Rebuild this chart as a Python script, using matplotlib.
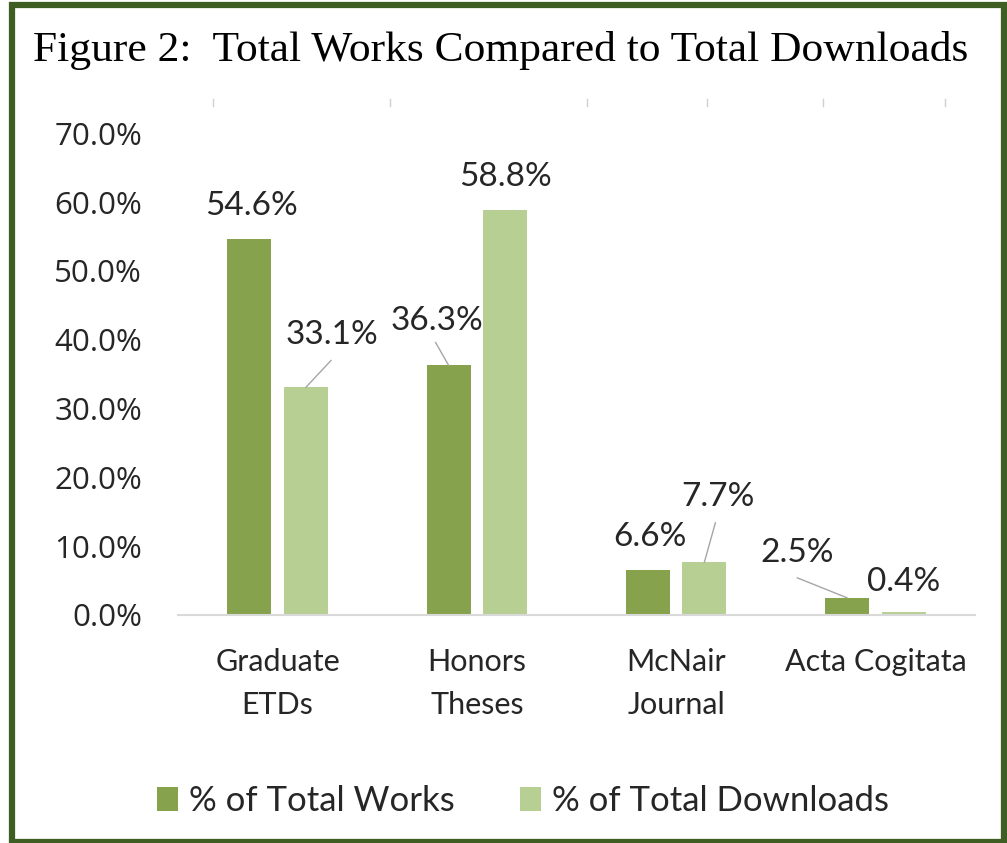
import matplotlib.pyplot as plt
import numpy as np
from matplotlib.patches import Rectangle

categories = ['Graduate\nETDs', 'Honors\nTheses', 'McNair\nJournal', 'Acta Cogitata']
total_works = [54.6, 36.3, 6.6, 2.5]
total_downloads = [33.1, 58.8, 7.7, 0.4]
y_ticks = [0, 10, 20, 30, 40, 50, 60, 70]

DARK = '#86a24c'
LIGHT = '#b8cf94'
BORDER = '#3f5e24'
FONT = 'Lato'

fig = plt.figure(figsize=(10.07, 8.43), dpi=100)
W, H = 1007, 843

# green frame round the whole figure
fig.patches.append(Rectangle((12 / W, 1 / H), (1004 - 12) / W, (838 - 1) / H,
                             transform=fig.transFigure, fill=False,
                             edgecolor=BORDER, linewidth=4.5))

fig.text(33 / W, 1 - 50 / H, 'Figure 2:  Total Works Compared to Total Downloads',
         family='Liberation Serif', fontsize=31.3, va='center', ha='left')

ax = fig.add_axes([178 / W, 228 / H, (975 - 178) / W, (615 - 99) / H])
x = np.arange(len(categories))
bw = 0.221
off = 0.142
b1 = ax.bar(x - off, total_works, bw, color=DARK, label='% of Total Works')
b2 = ax.bar(x + off, total_downloads, bw, color=LIGHT, label='% of Total Downloads')

ax.set_xlim(-0.5, 3.5)
ax.set_ylim(0, 75)
ax.set_yticks(y_ticks)
ax.set_yticklabels([f'{v:.1f}%' for v in y_ticks], family='Open Sans', fontsize=22.5,
                   color='#262626')
ax.set_xticks(x)
ax.set_xticklabels(categories, family=FONT, fontsize=22, linespacing=1.65, color='#262626')
ax.tick_params(length=0)
ax.tick_params(axis='y', pad=26)
ax.tick_params(axis='x', pad=24)
for s in ['top', 'right', 'left']:
    ax.spines[s].set_visible(False)
ax.spines['bottom'].set_color('#d9d9d9')
ax.spines['bottom'].set_linewidth(1.5)

# faint stubs left at the top of the plot area
for px in [213, 390, 587, 707, 823, 945]:
    xd = -0.5 + (px - 178) / 199.25
    ax.plot([xd, xd], [74.0, 75.0], color='#d0d0d0', lw=1, clip_on=False)

# data labels: (dx, dy) offset of the label from the bar top, in data units;
# leader end offsets, None when there is no leader line
works_off = [(0.01, 4.9), (-0.06, 6.5), (0.01, 4.7), (-0.25, 6.5)]
works_lead = [None, (-0.065, 3.3), None, (-0.25, 2.9)]
dl_off = [(0.133, 7.6), (0.0, 4.8), (0.07, 9.4), (0.0, 4.4)]
dl_lead = [(0.126, 3.9), None, (0.055, 5.7), None]

def put_labels(bars, vals, offs, leads):
    for b, v, (dx, dy), lead in zip(bars, vals, offs, leads):
        xc = b.get_x() + b.get_width() / 2
        ax.text(xc + dx, v + dy, f'{v:.1f}%', family=FONT, fontsize=24,
                ha='center', va='center', color='#262626')
        if lead is not None:
            ax.plot([xc, xc + lead[0]], [v, v + lead[1]], color='#a6a6a6', lw=1)

put_labels(b1, total_works, works_off, works_lead)
put_labels(b2, total_downloads, dl_off, dl_lead)

leg = fig.legend(handles=[b1, b2], loc='center', bbox_to_anchor=(523 / W, 1 - 801 / H),
                 ncol=2, frameon=False, prop={'family': FONT, 'size': 25},
                 handlelength=0.6, handleheight=0.7, handletextpad=0.3, columnspacing=1.9)
for t in leg.get_texts():
    t.set_color('#262626')

fig.savefig('out.png', dpi=100)
